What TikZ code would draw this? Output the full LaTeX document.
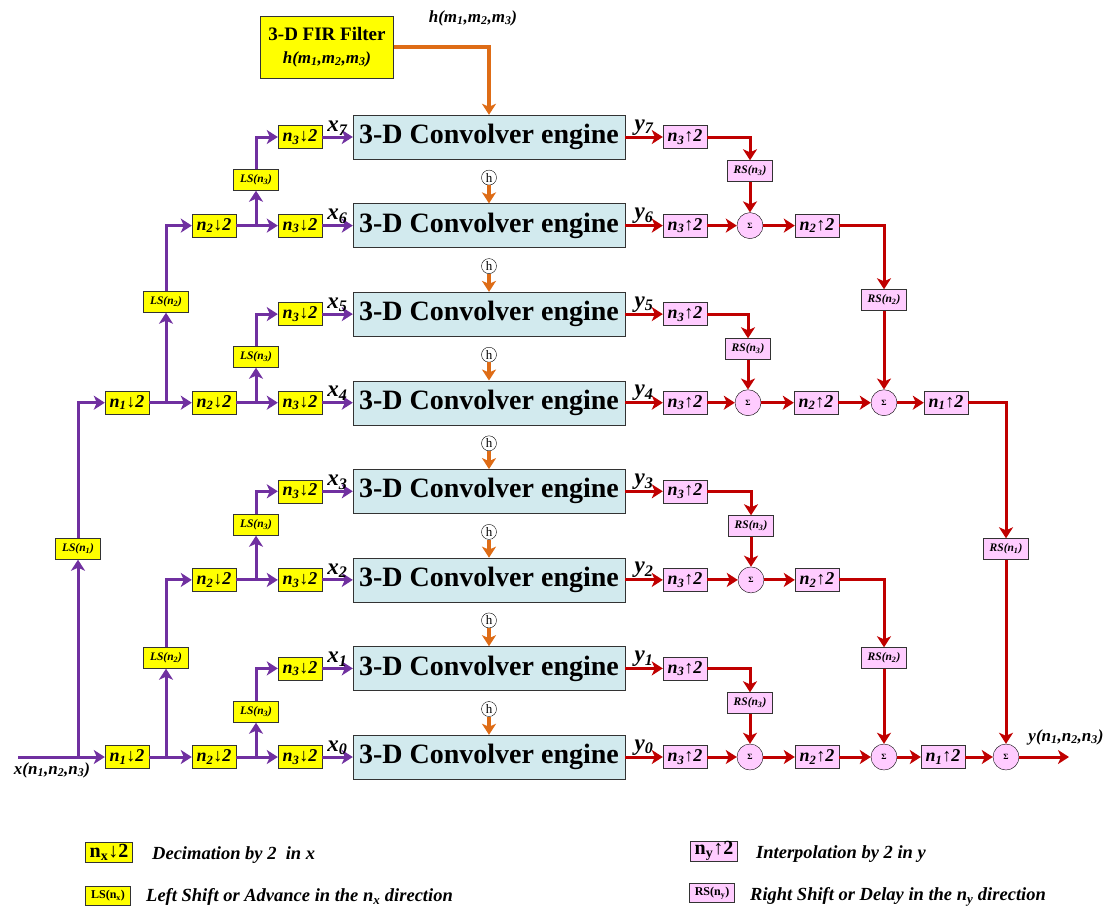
\documentclass[tikz,border=0pt]{standalone}
\usepackage{fontspec}
\setmainfont{Liberation Serif}
\usetikzlibrary{shapes,arrows.meta}

\definecolor{decyellow}{RGB}{255,255,0}
\definecolor{intpink}{RGB}{255,204,255}
\definecolor{convblue}{RGB}{210,234,238}
\definecolor{xpurple}{RGB}{112,48,160}
\definecolor{yred}{RGB}{192,0,0}
\definecolor{horange}{RGB}{222,108,22}

% box labels
\newcommand{\downby}[1]{n\textsubscript{#1}↓2}
\newcommand{\upby}[1]{n\textsubscript{#1}↑2}
\newcommand{\lsh}[1]{LS(n\textsubscript{#1})}
\newcommand{\rsh}[1]{RS(n\textsubscript{#1})}

\tikzset{
  >={Stealth[length=11pt,width=14pt,inset=3pt]},
  engine/.style={draw=black!80,fill=convblue,minimum width=272pt,minimum height=44pt,inner sep=0pt,
    font=\fontsize{28}{30}\selectfont\bfseries},
  decbox/.style={draw=black!80,fill=decyellow,minimum width=44pt,minimum height=23pt,inner sep=0pt,
    font=\fontsize{18}{18}\selectfont\bfseries\itshape},
  lsbox/.style={draw=black!80,fill=decyellow,minimum width=45pt,minimum height=21pt,inner sep=0pt,
    font=\fontsize{11.5}{12}\selectfont\bfseries\itshape},
  intbox/.style={decbox,fill=intpink},
  rsbox/.style={lsbox,fill=intpink},
  sumnode/.style={circle,draw=black,fill=intpink,minimum size=26pt,inner sep=0pt,
    font=\fontsize{8}{8}\selectfont\bfseries},
  hnode/.style={circle,draw=black,minimum size=15pt,inner sep=0pt,font=\fontsize{13}{13}\selectfont},
  lab/.style={text=black,inner sep=0.5pt,font=\fontsize{23}{23}\selectfont\bfseries\itshape},
  sig/.style={inner sep=0pt,font=\fontsize{17}{18}\selectfont\bfseries\itshape},
  keytext/.style={anchor=west,inner sep=0pt,font=\fontsize{18.5}{19}\selectfont\bfseries\itshape},
  xline/.style={xpurple,line width=3pt,->},
  yline/.style={yred,line width=3pt,->},
  hline/.style={horange,line width=4pt,->},
}

\begin{document}
\begin{tikzpicture}[x=1pt,y=-1pt]
  \useasboundingbox (0,0) rectangle (1113,910);

  %filter
  \node[draw=black!80,fill=decyellow,minimum width=133pt,minimum height=62pt,align=center,inner sep=0pt,
    font=\fontsize{19}{23}\selectfont]
    (fir) at (327,47) {{\bfseries 3-D FIR Filter}\\
    {\fontsize{17}{20}\selectfont\bfseries\itshape h(m\textsubscript{1},m\textsubscript{2},m\textsubscript{3})}};
  \node[sig] (hlab) at (473,18) {h(m\textsubscript{1},m\textsubscript{2},m\textsubscript{3})};

  %engines
  \node[engine] (e7) at (489,137)   {3-D Convolver engine};
  \node[engine] (e6) at (489,225.6) {3-D Convolver engine};
  \node[engine] (e5) at (489,314.1) {3-D Convolver engine};
  \node[engine] (e4) at (489,402.7) {3-D Convolver engine};
  \node[engine] (e3) at (489,491.3) {3-D Convolver engine};
  \node[engine] (e2) at (489,579.9) {3-D Convolver engine};
  \node[engine] (e1) at (489,668.4) {3-D Convolver engine};
  \node[engine] (e0) at (489,757)   {3-D Convolver engine};

  %coefficients
  \draw[hline] (fir.east) -| (e7.north);
  \node[hnode] (h6) at (489,177.6) {h};
  \node[hnode] (h5) at (489,266.1) {h};
  \node[hnode] (h4) at (489,354.7) {h};
  \node[hnode] (h3) at (489,443.3) {h};
  \node[hnode] (h2) at (489,531.9) {h};
  \node[hnode] (h1) at (489,620.4) {h};
  \node[hnode] (h0) at (489,709)   {h};
  \draw[hline] (h6.south) -- (e6.north);
  \draw[hline] (h5.south) -- (e5.north);
  \draw[hline] (h4.south) -- (e4.north);
  \draw[hline] (h3.south) -- (e3.north);
  \draw[hline] (h2.south) -- (e2.north);
  \draw[hline] (h1.south) -- (e1.north);
  \draw[hline] (h0.south) -- (e0.north);

  %analysis side
  \coordinate (xin) at (18,757);
  \node[decbox] (a0) at (127,757)   {\downby{1}};
  \node[decbox] (a4) at (127,402.7) {\downby{1}};
  \node[lsbox] (ls1r4) at (78,549) {\lsh{1}};

  \node[decbox] (b0) at (214,757)   {\downby{2}};
  \node[decbox] (b2) at (214,579.9) {\downby{2}};
  \node[decbox] (b4) at (214,402.7) {\downby{2}};
  \node[decbox] (b6) at (214,225.6) {\downby{2}};
  \node[lsbox] (ls2r2) at (166,658) {\lsh{2}};
  \node[lsbox] (ls2r6) at (166,302) {\lsh{2}};

  \node[decbox] (c7) at (300,137)   {\downby{3}};
  \node[decbox] (c6) at (300,225.6) {\downby{3}};
  \node[decbox] (c5) at (300,314.1) {\downby{3}};
  \node[decbox] (c4) at (300,402.7) {\downby{3}};
  \node[decbox] (c3) at (300,491.3) {\downby{3}};
  \node[decbox] (c2) at (300,579.9) {\downby{3}};
  \node[decbox] (c1) at (300,668.4) {\downby{3}};
  \node[decbox] (c0) at (300,757)   {\downby{3}};
  \node[lsbox] (ls3r1) at (256,712) {\lsh{3}};
  \node[lsbox] (ls3r3) at (256,525) {\lsh{3}};
  \node[lsbox] (ls3r5) at (256,357) {\lsh{3}};
  \node[lsbox] (ls3r7) at (256,180) {\lsh{3}};

  \node[sig,anchor=north] (xlab) at (52,762) {x(n\textsubscript{1},n\textsubscript{2},n\textsubscript{3})};

  %n1 stage
  \draw[xline] (xin) -- (a0.west);
  \draw[xline] (xin -| ls1r4) -- (ls1r4.south);
  \draw[xline] (ls1r4.north) |- (a4.west);

  %n2 stage
  \draw[xline] (a0.east) -- (b0.west);
  \draw[xline] (a0.east -| ls2r2) -- (ls2r2.south);
  \draw[xline] (ls2r2.north) |- (b2.west);
  \draw[xline] (a4.east) -- (b4.west);
  \draw[xline] (a4.east -| ls2r6) -- (ls2r6.south);
  \draw[xline] (ls2r6.north) |- (b6.west);

  %n3 stage
  \draw[xline] (b0.east) -- (c0.west);
  \draw[xline] (b0.east -| ls3r1) -- (ls3r1.south);
  \draw[xline] (ls3r1.north) |- (c1.west);
  \draw[xline] (b2.east) -- (c2.west);
  \draw[xline] (b2.east -| ls3r3) -- (ls3r3.south);
  \draw[xline] (ls3r3.north) |- (c3.west);
  \draw[xline] (b4.east) -- (c4.west);
  \draw[xline] (b4.east -| ls3r5) -- (ls3r5.south);
  \draw[xline] (ls3r5.north) |- (c5.west);
  \draw[xline] (b6.east) -- (c6.west);
  \draw[xline] (b6.east -| ls3r7) -- (ls3r7.south);
  \draw[xline] (ls3r7.north) |- (c7.west);

  %into the engines
  \draw[xline] (c7.east) -- node[lab,above] {x\textsubscript{7}} (e7.west);
  \draw[xline] (c6.east) -- node[lab,above] {x\textsubscript{6}} (e6.west);
  \draw[xline] (c5.east) -- node[lab,above] {x\textsubscript{5}} (e5.west);
  \draw[xline] (c4.east) -- node[lab,above] {x\textsubscript{4}} (e4.west);
  \draw[xline] (c3.east) -- node[lab,above] {x\textsubscript{3}} (e3.west);
  \draw[xline] (c2.east) -- node[lab,above] {x\textsubscript{2}} (e2.west);
  \draw[xline] (c1.east) -- node[lab,above] {x\textsubscript{1}} (e1.west);
  \draw[xline] (c0.east) -- node[lab,above] {x\textsubscript{0}} (e0.west);

  %synthesis side
  \node[intbox] (u7) at (685,137)   {\upby{3}};
  \node[intbox] (u6) at (685,225.6) {\upby{3}};
  \node[intbox] (u5) at (685,314.1) {\upby{3}};
  \node[intbox] (u4) at (685,402.7) {\upby{3}};
  \node[intbox] (u3) at (685,491.3) {\upby{3}};
  \node[intbox] (u2) at (685,579.9) {\upby{3}};
  \node[intbox] (u1) at (685,668.4) {\upby{3}};
  \node[intbox] (u0) at (685,757)   {\upby{3}};
  \node[rsbox] (rs3r7) at (750,171) {\rsh{3}};
  \node[rsbox] (rs3r5) at (748,349) {\rsh{3}};
  \node[rsbox] (rs3r3) at (751,526) {\rsh{3}};
  \node[rsbox] (rs3r1) at (750,703) {\rsh{3}};
  \node[sumnode] (s6) at (750,225.6) {Σ};
  \node[sumnode] (s4) at (748,402.7) {Σ};
  \node[sumnode] (s2) at (751,579.9) {Σ};
  \node[sumnode] (s0) at (750,757)   {Σ};

  \node[intbox] (v6) at (817,225.6) {\upby{2}};
  \node[intbox] (v4) at (816,402.7) {\upby{2}};
  \node[intbox] (v2) at (817,579.9) {\upby{2}};
  \node[intbox] (v0) at (817,757)   {\upby{2}};
  \node[rsbox] (rs2r6) at (884,300) {\rsh{2}};
  \node[rsbox] (rs2r2) at (884,658) {\rsh{2}};
  \node[sumnode] (t4) at (884,402.7) {Σ};
  \node[sumnode] (t0) at (884,757)   {Σ};

  \node[intbox] (w4) at (946,402.7) {\upby{1}};
  \node[intbox] (w0) at (943,757)   {\upby{1}};
  \node[rsbox] (rs1r4) at (1006,549) {\rsh{1}};
  \node[sumnode] (f0) at (1006,757) {Σ};

  \coordinate (yout) at (1069,757);
  \node[sig] (ylab) at (1066,737) {y(n\textsubscript{1},n\textsubscript{2},n\textsubscript{3})};

  %out of the engines
  \draw[yline] (e7.east) -- node[lab,above] {y\textsubscript{7}} (u7.west);
  \draw[yline] (e6.east) -- node[lab,above] {y\textsubscript{6}} (u6.west);
  \draw[yline] (e5.east) -- node[lab,above] {y\textsubscript{5}} (u5.west);
  \draw[yline] (e4.east) -- node[lab,above] {y\textsubscript{4}} (u4.west);
  \draw[yline] (e3.east) -- node[lab,above] {y\textsubscript{3}} (u3.west);
  \draw[yline] (e2.east) -- node[lab,above] {y\textsubscript{2}} (u2.west);
  \draw[yline] (e1.east) -- node[lab,above] {y\textsubscript{1}} (u1.west);
  \draw[yline] (e0.east) -- node[lab,above] {y\textsubscript{0}} (u0.west);

  %n3 merge
  \draw[yline] (u7.east) -| (rs3r7.north);
  \draw[yline] (rs3r7.south) -- (s6.north);
  \draw[yline] (u6.east) -- (s6.west);
  \draw[yline] (u5.east) -| (rs3r5.north);
  \draw[yline] (rs3r5.south) -- (s4.north);
  \draw[yline] (u4.east) -- (s4.west);
  \draw[yline] (u3.east) -| (rs3r3.north);
  \draw[yline] (rs3r3.south) -- (s2.north);
  \draw[yline] (u2.east) -- (s2.west);
  \draw[yline] (u1.east) -| (rs3r1.north);
  \draw[yline] (rs3r1.south) -- (s0.north);
  \draw[yline] (u0.east) -- (s0.west);

  %n2 merge
  \draw[yline] (s6.east) -- (v6.west);
  \draw[yline] (s4.east) -- (v4.west);
  \draw[yline] (s2.east) -- (v2.west);
  \draw[yline] (s0.east) -- (v0.west);
  \draw[yline] (v6.east) -| (rs2r6.north);
  \draw[yline] (rs2r6.south) -- (t4.north);
  \draw[yline] (v4.east) -- (t4.west);
  \draw[yline] (v2.east) -| (rs2r2.north);
  \draw[yline] (rs2r2.south) -- (t0.north);
  \draw[yline] (v0.east) -- (t0.west);

  %n1 merge
  \draw[yline] (t4.east) -- (w4.west);
  \draw[yline] (t0.east) -- (w0.west);
  \draw[yline] (w4.east) -| (rs1r4.north);
  \draw[yline] (rs1r4.south) -- (f0.north);
  \draw[yline] (w0.east) -- (f0.west);
  \draw[yline] (f0.east) -- (yout);

  %legend
  \node[decbox,minimum width=47pt,minimum height=20pt,font=\fontsize{20}{20}\selectfont\bfseries]
    (keydec) at (109,852) {\downby{x}};
  \node[keytext] (keydectxt) at (152,855) {Decimation by 2\ \ in x};
  \node[lsbox,minimum width=45pt,minimum height=19pt,font=\fontsize{12}{12}\selectfont\bfseries]
    (keyls) at (108,896) {\lsh{x}};
  \node[keytext] (keylstxt) at (146,897) {Left Shift or Advance in the n\textsubscript{x} direction};
  \node[intbox,minimum width=47pt,minimum height=20pt,font=\fontsize{20}{20}\selectfont\bfseries]
    (keyint) at (714,851) {\upby{y}};
  \node[keytext] (keyinttxt) at (756,854) {Interpolation by 2 in y};
  \node[rsbox,minimum width=45pt,minimum height=19pt,font=\fontsize{12}{12}\selectfont\bfseries]
    (keyrs) at (712,893) {\rsh{y}};
  \node[keytext] (keyrstxt) at (750,897) {Right Shift or Delay in the n\textsubscript{y} direction};

\end{tikzpicture}
\end{document}
